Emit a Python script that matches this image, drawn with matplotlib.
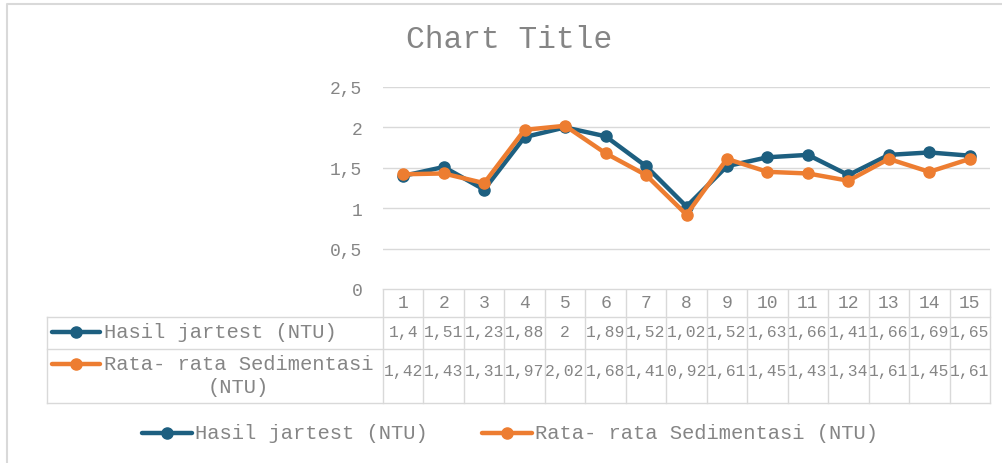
import matplotlib.pyplot as plt

categories = [str(i) for i in range(1, 16)]
hasil_jartest = [1.4, 1.51, 1.23, 1.88, 2, 1.89, 1.52, 1.02, 1.52, 1.63, 1.66, 1.41, 1.66, 1.69, 1.65]
sedimentasi = [1.42, 1.43, 1.31, 1.97, 2.02, 1.68, 1.41, 0.92, 1.61, 1.45, 1.43, 1.34, 1.61, 1.45, 1.61]
series_names = ["Hasil jartest (NTU)", "Rata- rata Sedimentasi (NTU)"]
table_names = ["Hasil jartest (NTU)", "Rata- rata Sedimentasi\n(NTU)"]
yticks = [0, 0.5, 1, 1.5, 2, 2.5]

W, H = 1003, 464
blue = "#1d5f80"
orange = "#ed7d31"
grid = "#d9d9d9"
txt = "#858585"
mono = "Liberation Mono"

fig = plt.figure(figsize=(W / 100, H / 100), dpi=100)

# plot area in pixels
x0, x1 = 383, 990
y_top, y_bot = 88, 290
ax = fig.add_axes([x0 / W, 1 - y_bot / H, (x1 - x0) / W, (y_bot - y_top) / H])
xs = list(range(1, 16))
ax.plot(xs, hasil_jartest, color=blue, lw=3.2, marker="o", ms=8, zorder=3)
ax.plot(xs, sedimentasi, color=orange, lw=3.2, marker="o", ms=8, zorder=4)
ax.set_xlim(0.5, 15.5)
ax.set_ylim(0, 2.5)
ax.set_yticks(yticks)
ax.set_yticklabels([f"{v:g}".replace(".", ",") for v in yticks], fontfamily=mono,
                   fontsize=13, color=txt)
ax.tick_params(axis="y", length=0, pad=15)
ax.set_xticks([])
ax.grid(axis="y", color=grid, lw=1)
for s in ax.spines.values():
    s.set_visible(False)

# overlay in pixel coordinates for table, title, legend
ov = fig.add_axes([0, 0, 1, 1], zorder=-1)
ov.set_xlim(0, W)
ov.set_ylim(H, 0)
ov.axis("off")

# outer chart border
ov.plot([7, 7, W + 5], [H + 5, 5, 5], color="#d9d9d9", lw=1.5)

ov.text(509, 40, "Chart Title", ha="center", va="center", fontfamily=mono,
        fontsize=22.5, color=txt)

# data table
cw = (x1 - x0) / 15
t_left, r0, r1, r2, r3 = 47, 290, 318, 350, 404
lc = grid
for i in range(16):
    xv = x0 + i * cw
    ov.plot([xv, xv], [r0, r3], color=lc, lw=1)
ov.plot([x0, x1], [r0, r0], color=lc, lw=1)
for yv in (r1, r2, r3):
    ov.plot([t_left, x1], [yv, yv], color=lc, lw=1)
ov.plot([t_left, t_left], [r1, r3], color=lc, lw=1)

for i, c in enumerate(categories):
    cx = x0 + (i + 0.5) * cw
    ov.text(cx, 304, c, ha="center", va="center", fontfamily=mono, fontsize=13, color=txt)
    ov.text(cx, 333, f"{hasil_jartest[i]:g}".replace(".", ","), ha="center", va="center",
            fontfamily=mono, fontsize=11.8, color=txt)
    ov.text(cx, 372, f"{sedimentasi[i]:g}".replace(".", ","), ha="center", va="center",
            fontfamily=mono, fontsize=11.8, color=txt)

for (ky, col) in [(333, blue), (365, orange)]:
    ov.plot([52, 100], [ky, ky], color=col, lw=3.2, solid_capstyle="round")
    ov.plot([76], [ky], marker="o", ms=8, color=col)
ov.text(104, 333, table_names[0], ha="left", va="center", fontfamily=mono, fontsize=14.8, color=txt)
ov.text(104, 365, table_names[1].split("\n")[0], ha="left", va="center", fontfamily=mono,
        fontsize=14.8, color=txt)
ov.text(238, 388, table_names[1].split("\n")[1], ha="center", va="center", fontfamily=mono,
        fontsize=14.8, color=txt)

# legend
for (lx, name, col) in [(142, series_names[0], blue), (482, series_names[1], orange)]:
    ov.plot([lx, lx + 50], [434, 434], color=col, lw=3.2, solid_capstyle="round")
    ov.plot([lx + 25], [434], marker="o", ms=8, color=col)
    ov.text(lx + 53, 434, name, ha="left", va="center", fontfamily=mono, fontsize=14.8, color=txt)

fig.savefig("out.png", dpi=100)
